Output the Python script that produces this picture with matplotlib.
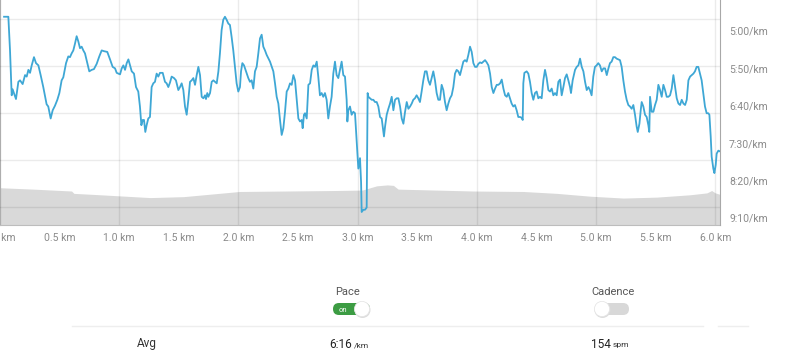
import matplotlib
matplotlib.use("Agg")
import matplotlib.pyplot as plt
from matplotlib.patches import FancyBboxPatch, Circle
from matplotlib.ticker import MultipleLocator, FuncFormatter

# ---------------- data ----------------
# pace trace: distance (m) and pace (seconds per km)
pace_dist_m = [
    34, 70, 84, 98, 106, 117, 134, 154, 168, 190, 210, 224, 238, 252, 266, 285, 302, 322, 341, 363,
    391, 405, 425, 442, 461, 481, 498, 517, 531, 554, 573, 587, 601, 615, 629, 643, 657, 671, 685, 699,
    713, 733, 749, 769, 788, 811, 833, 853, 872, 900, 923, 945, 965, 979, 1007,
    1021, 1035, 1049, 1063, 1077, 1091, 1105, 1124, 1141, 1160, 1174, 1186, 1197, 1208, 1219, 1230, 1244,
    1258, 1272, 1286, 1300, 1314, 1328, 1342, 1365, 1384, 1398, 1412, 1426, 1440, 1460, 1476, 1496, 1510,
    1524, 1538, 1552, 1566, 1580, 1594, 1608, 1622, 1636, 1650, 1664, 1678, 1692, 1706, 1720, 1728, 1739,
    1748, 1762, 1776, 1790, 1804, 1818, 1832, 1845, 1859, 1873, 1887, 1901, 1915, 1929, 1943, 1957, 1971,
    1985, 1999, 2013,
    2022, 2033, 2047, 2064, 2083, 2097, 2111, 2125, 2139, 2153, 2167, 2181, 2195, 2209, 2223, 2237, 2265,
    2293, 2307, 2321, 2335, 2349, 2363, 2377, 2391, 2405, 2419, 2433, 2447, 2461, 2475, 2489, 2503, 2517,
    2531, 2539, 2550, 2559, 2573, 2587, 2601, 2615, 2629, 2643, 2657, 2670, 2684, 2698, 2712, 2726, 2740,
    2754, 2768, 2782, 2796, 2810, 2824, 2838, 2852, 2866, 2880, 2894, 2908, 2914, 2922, 2936, 2950, 2964,
    2978, 2992, 3006, 3020,
    3029, 3034, 3048, 3062, 3076, 3084, 3090, 3104, 3118, 3132, 3146, 3160, 3174, 3188, 3202, 3221, 3230,
    3244, 3258, 3272, 3286, 3300, 3314, 3328, 3342, 3356, 3370, 3384, 3398, 3412, 3426, 3440, 3454, 3467,
    3481, 3495, 3509, 3523, 3537, 3551, 3565, 3579, 3593, 3607, 3621, 3635, 3649, 3663, 3677, 3691, 3705,
    3719, 3733, 3747, 3761, 3775, 3789, 3803, 3817, 3831, 3845, 3859, 3873, 3887, 3901, 3915, 3929, 3943,
    3957, 3971, 3985, 3999, 4013, 4027,
    4041, 4055, 4069, 4083, 4097, 4111, 4125, 4139, 4153, 4167, 4181, 4195, 4209, 4223, 4237, 4251, 4264,
    4278, 4292, 4306, 4320, 4334, 4348, 4362, 4376, 4385, 4390, 4399, 4418, 4432, 4446, 4460, 4474, 4488,
    4502, 4516, 4530, 4544, 4558, 4572, 4586, 4600, 4614, 4628, 4642, 4656, 4670, 4684, 4698, 4712, 4726,
    4740, 4754, 4768, 4782, 4790, 4804, 4824, 4838, 4852, 4866, 4880, 4894, 4908, 4922, 4936, 4949, 4963,
    4977, 4991, 5005, 5019, 5033,
    5048, 5062, 5076, 5090, 5104, 5117, 5131, 5145, 5159, 5173, 5187, 5201, 5215, 5229, 5243, 5257, 5271,
    5285, 5299, 5313, 5327, 5341, 5350, 5364, 5375, 5383, 5397, 5411, 5425, 5439, 5447, 5453, 5467, 5481,
    5495, 5509, 5523, 5537, 5551, 5565, 5579, 5593, 5607, 5621, 5635, 5649, 5663, 5677, 5691, 5705, 5719,
    5733, 5747, 5761, 5775, 5789, 5803, 5817, 5830, 5844, 5858, 5872, 5886, 5900, 5914, 5928, 5942, 5951,
    5962, 5970, 5984, 5993, 6004, 6012, 6026, 6040,
]
pace_sec = [
    281, 281, 326, 386, 378, 383, 391, 368, 366, 371, 359, 361, 352, 356, 346, 335, 343, 346, 359, 375,
    398, 401, 417, 406, 400, 392, 383, 366, 362, 343, 334, 335, 330, 326, 317, 307, 314, 323, 321, 326,
    330, 343, 354, 352, 351, 344, 334, 326, 327, 328, 338, 348, 350, 356, 358,
    350, 346, 352, 343, 338, 346, 354, 357, 375, 381, 401, 426, 419, 419, 435, 426, 417,
    415, 375, 370, 368, 357, 361, 356, 356, 368, 370, 375, 369, 361, 363, 366, 379, 375,
    370, 379, 401, 412, 392, 368, 366, 363, 372, 359, 348, 359, 388, 390, 386, 391, 383,
    388, 383, 368, 366, 368, 370, 354, 330, 299, 285, 281, 285, 290, 292, 308, 326, 348,
    370, 381, 375,
    354, 343, 346, 354, 363, 368, 366, 377, 354, 348, 330, 310, 305, 321, 326, 332, 341,
    354, 370, 388, 397, 419, 439, 430, 408, 381, 377, 370, 372, 359, 366, 392, 417, 421,
    419, 430, 412, 410, 417, 372, 370, 352, 346, 348, 341, 361, 386, 383, 388, 383, 392,
    417, 401, 388, 357, 341, 359, 363, 352, 341, 359, 361, 392, 421, 406, 401, 412, 408,
    410, 446, 484, 470,
    502, 542, 539, 539, 536, 383, 388, 390, 392, 392, 395, 395, 401, 415, 417, 441, 428,
    412, 404, 397, 388, 406, 392, 390, 390, 401, 417, 424, 408, 395, 404, 401, 397, 392,
    390, 386, 390, 395, 381, 366, 354, 354, 366, 372, 363, 354, 366, 383, 392, 392, 372,
    379, 395, 406, 397, 390, 386, 375, 357, 352, 354, 359, 350, 341, 339, 341, 332, 321,
    328, 343, 348, 348, 344, 342,
    343, 341, 339, 342, 346, 357, 375, 383, 377, 372, 372, 370, 365, 377, 386, 388, 383,
    390, 397, 401, 399, 406, 415, 415, 416, 419, 370, 356, 354, 357, 368, 383, 392, 383,
    381, 390, 388, 390, 366, 352, 363, 379, 381, 377, 386, 383, 386, 368, 365, 386, 375,
    363, 358, 366, 375, 383, 366, 352, 348, 346, 337, 348, 354, 368, 379, 375, 379, 386,
    361, 348, 346, 343, 346,
    354, 350, 350, 359, 350, 343, 341, 335, 335, 337, 338, 339, 348, 366, 381, 392, 399,
    401, 404, 399, 412, 428, 435, 424, 406, 395, 401, 412, 415, 426, 435, 388, 408, 408,
    399, 392, 372, 379, 388, 372, 379, 388, 388, 386, 377, 359, 375, 390, 397, 399, 392,
    397, 399, 392, 366, 361, 359, 357, 354, 348, 348, 357, 366, 383, 401, 410, 410, 412,
    441, 468, 484, 490, 479, 464, 460, 461,
]

# elevation profile (km, m)
elev_km = [0.00, 0.28, 0.60, 0.62, 0.84, 1.26, 1.54, 2.01, 2.79, 3.04, 3.16, 3.25, 3.30, 3.34,
           3.97, 4.39, 4.67, 4.95, 5.23, 5.51, 5.79, 5.93, 5.97, 6.00, 6.04]
elev_m = [4.1, 3.8, 3.4, 2.9, 2.6, 2.0, 2.2, 3.3, 3.5, 3.6, 4.5, 4.7, 4.6, 3.8,
          3.4, 3.3, 2.9, 2.3, 1.9, 2.1, 2.6, 3.0, 3.5, 3.0, 2.7]

pace_ticks = [300, 350, 400, 450, 500, 550]
elev_grid = [0, 10, 20, 30, 40]

summary_label = "Avg"
avg_pace = "6:16"
avg_cadence = "154"

# ---------------- figure ----------------
W, H = 788, 358
fig = plt.figure(figsize=(W / 100, H / 100), dpi=100)
plt.rcParams['font.family'] = ['Roboto', 'DejaVu Sans']

ax_e = fig.add_axes([0, (H - 225) / H, 720 / W, 225 / H])
ax_p = ax_e.twinx()

# elevation (background layer)
ax_e.fill_between(elev_km, elev_m, -10, color="#d9d9d9", lw=0, zorder=1)
ax_e.set_ylim(-3.83, 44.04)
ax_e.set_xlim(0, 6.04)
ax_e.set_yticks(elev_grid)
ax_e.tick_params(axis="y", length=0, labelleft=False)
ax_e.xaxis.set_major_locator(MultipleLocator(0.5))
ax_e.xaxis.set_minor_locator(MultipleLocator(1.0))
ax_e.xaxis.remove_overlapping_locs = False
ax_e.xaxis.set_major_formatter(FuncFormatter(lambda v, p: f"{v:.1f} km"))
ax_e.tick_params(axis="x", which="both", length=0, pad=6, labelsize=7.5, labelcolor="#8a8a8a")
ax_e.grid(axis="y", which="major", color="black", alpha=0.08, lw=1, zorder=2)
ax_e.grid(axis="x", which="minor", color="black", alpha=0.08, lw=1, zorder=2)
ax_e.grid(axis="x", which="major", visible=False)
ax_e.set_axisbelow(False)
for s in ["top", "right"]:
    ax_e.spines[s].set_visible(False)
ax_e.spines["bottom"].set_color("#bdbdbd")
ax_e.spines["left"].set_color("#bdbdbd")

# pace line
ax_p.plot([d / 1000 for d in pace_dist_m], pace_sec, color="#3ea7d5", lw=1.3, zorder=3)
ax_p.set_ylim(559.4, 258.6)
ax_p.set_xlim(0, 6.04)
ax_p.set_yticks(pace_ticks)
ax_p.yaxis.set_major_formatter(FuncFormatter(lambda v, p: f"{int(v)//60}:{int(v)%60:02d}/km"))
ax_p.tick_params(axis="y", length=0, pad=6.5, labelsize=7.5, labelcolor="#8a8a8a")
for s in ["top", "left", "bottom"]:
    ax_p.spines[s].set_visible(False)
ax_p.spines["right"].set_color("#a8a8a8")

# ---------------- bottom panel (pixel coordinates) ----------------
ov = fig.add_axes([0, 0, 1, 1])
ov.set_xlim(0, W)
ov.set_ylim(H, 0)
ov.axis("off")
ov.patch.set_alpha(0)

ov.text(348, 292, "Pace", ha="center", va="center", fontsize=8, color="#555555")
ov.text(613, 292, "Cadence", ha="center", va="center", fontsize=8, color="#555555")

# Pace toggle (on)
ov.add_patch(FancyBboxPatch((333 + 6, 303), 37 - 12, 12, boxstyle="round,pad=0,rounding_size=6",
                            mutation_aspect=1, fc="#3c9c43", ec="none", zorder=2))
ov.add_patch(FancyBboxPatch((333, 303), 37, 12, boxstyle="round,pad=0,rounding_size=6",
                            fc="#3c9c43", ec="none", zorder=2))
ov.text(343, 309.5, "on", ha="center", va="center", fontsize=5.5, color="white", zorder=3)
ov.add_patch(Circle((362.5, 310), 8, fc="#dddddd", ec="none", zorder=3))
ov.add_patch(Circle((362, 309), 7.6, fc="white", ec="#e3e3e3", lw=0.5, zorder=4))

# Cadence toggle (off)
ov.add_patch(FancyBboxPatch((595, 303), 34, 12, boxstyle="round,pad=0,rounding_size=6",
                            fc="#d8d8d8", ec="none", zorder=2))
ov.add_patch(Circle((602.5, 310), 8, fc="#dddddd", ec="none", zorder=3))
ov.add_patch(Circle((602, 309), 7.6, fc="white", ec="#e3e3e3", lw=0.5, zorder=4))

# separator
ov.plot([72, 703], [326, 326], color="#eeeeee", lw=1)
ov.plot([718, 748], [326, 326], color="#eeeeee", lw=1)

# summary row
ov.text(147, 344, summary_label, ha="center", va="center", fontsize=8.5, color="#333333")
ov.text(352, 344, avg_pace, ha="right", va="center", fontsize=8.5, color="#222222")
ov.text(354, 345, "/km", ha="left", va="center", fontsize=6, color="#333333")
ov.text(611, 344, avg_cadence, ha="right", va="center", fontsize=8.5, color="#222222")
ov.text(613, 345, "spm", ha="left", va="center", fontsize=6, color="#333333")

fig.savefig("out.png", dpi=100)
